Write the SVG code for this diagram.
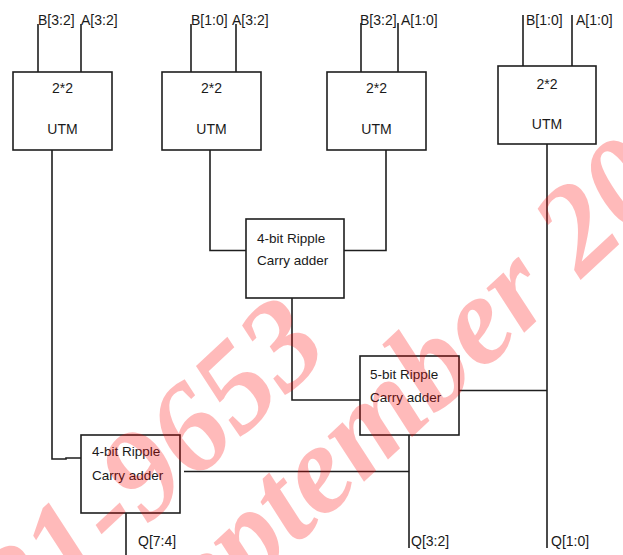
<svg xmlns="http://www.w3.org/2000/svg" width="623" height="555" viewBox="0 0 623 555">
<style>
.box{fill:#ffffff;stroke:#1e1e1e;stroke-width:1.6}
.ln{fill:none;stroke:#1e1e1e;stroke-width:1.6}
.t{font-family:"Liberation Sans",Arial,sans-serif;font-size:14px;fill:#1a1a1a}
.tc{text-anchor:middle}
.r{font-family:"Liberation Sans",Arial,sans-serif;font-size:13.5px;fill:#1a1a1a}
.wm{font-family:"Liberation Serif","Times New Roman",serif;font-weight:bold;font-style:italic;font-size:127px;fill:#ff0000;fill-opacity:0.27}
</style>
<rect width="623" height="555" fill="#ffffff"/>
<g id="connectors">
<path class="ln" d="M38,24V72M81,24V72"/>
<path class="ln" d="M191,24V72M236,24V72"/>
<path class="ln" d="M361,23V72M398,23V72"/>
<path class="ln" d="M523,15V66M572,15V66"/>
<path class="ln" d="M52,150V459H66V458H81"/>
<path class="ln" d="M210,150V250.5H246"/>
<path class="ln" d="M386,150V250.5H344"/>
<path class="ln" d="M292,298V400H360"/>
<path class="ln" d="M459,390.5H547"/>
<path class="ln" d="M547,144V548"/>
<path class="ln" d="M409,435V548"/>
<path class="ln" d="M184,471.5H409"/>
<path class="ln" d="M126,513V555"/>
</g>
<g id="utm1">
<rect class="box" x="13" y="72" width="99" height="78"/>
<text class="t tc" x="62.5" y="93">2*2</text>
<text class="t tc" x="62.5" y="134">UTM</text>
<text class="t" x="38" y="25">B[3:2]</text>
<text class="t" x="81" y="25">A[3:2]</text>
</g>
<g id="utm2">
<rect class="box" x="162" y="72" width="99" height="78"/>
<text class="t tc" x="211.5" y="93">2*2</text>
<text class="t tc" x="211.5" y="134">UTM</text>
<text class="t" x="191" y="25">B[1:0]</text>
<text class="t" x="232" y="25">A[3:2]</text>
</g>
<g id="utm3">
<rect class="box" x="327" y="72" width="99" height="78"/>
<text class="t tc" x="376.5" y="93">2*2</text>
<text class="t tc" x="376.5" y="134">UTM</text>
<text class="t" x="360" y="25">B[3:2]</text>
<text class="t" x="401" y="25">A[1:0]</text>
</g>
<g id="utm4">
<rect class="box" x="498" y="66" width="98" height="78"/>
<text class="t tc" x="547" y="89">2*2</text>
<text class="t tc" x="547" y="129">UTM</text>
<text class="t" x="526" y="25">B[1:0]</text>
<text class="t" x="576" y="25">A[1:0]</text>
</g>
<g id="rca4_top">
<rect class="box" x="246" y="219" width="98" height="79"/>
<text class="r" x="257" y="243">4-bit Ripple</text>
<text class="r" x="257" y="265">Carry adder</text>
</g>
<g id="rca5">
<rect class="box" x="360" y="356" width="99" height="79"/>
<text class="r" x="370" y="379">5-bit Ripple</text>
<text class="r" x="370" y="402">Carry adder</text>
</g>
<g id="rca4_bottom">
<rect class="box" x="81" y="435" width="99" height="78"/>
<text class="r" x="92" y="456">4-bit Ripple</text>
<text class="r" x="92" y="480">Carry adder</text>
</g>
<g id="outputs">
<text class="t" x="138" y="546">Q[7:4]</text>
<text class="t" x="411" y="546">Q[3:2]</text>
<text class="t" x="551" y="546">Q[1:0]</text>
</g>
<g id="watermark">
<text class="wm" text-anchor="end" transform="translate(333,352) rotate(-43)">2021-9653</text>
<text class="wm" transform="translate(156,676) rotate(-43)">September 2021</text>
</g>
</svg>
